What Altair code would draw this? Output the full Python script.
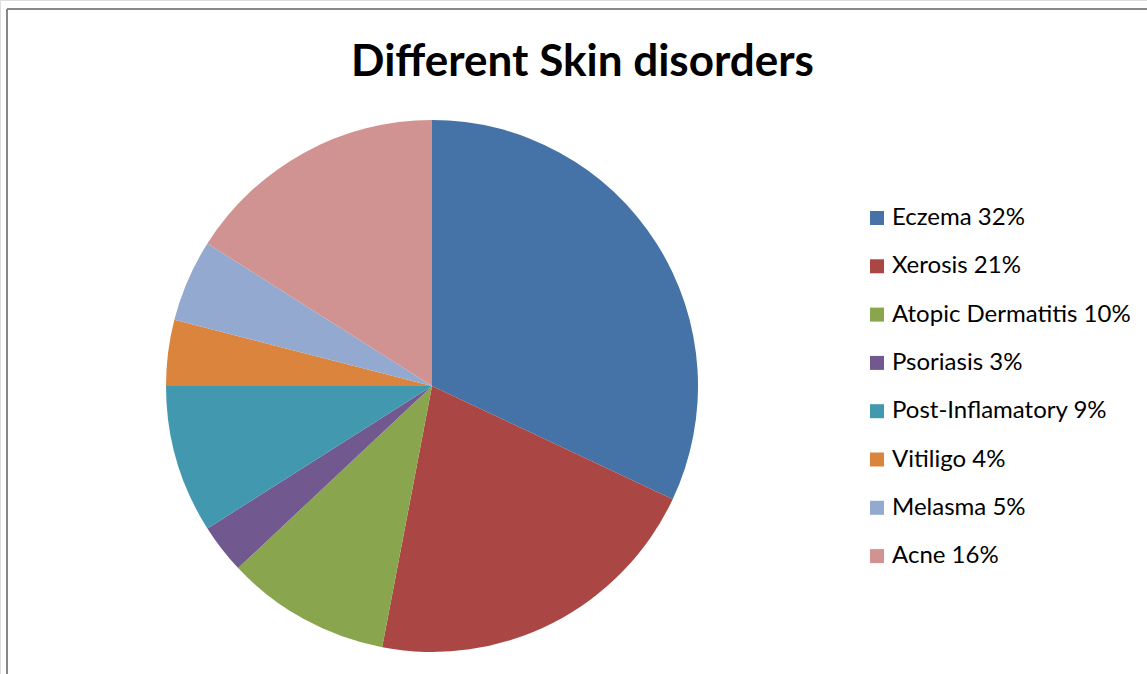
import altair as alt
import pandas as pd

categories = ["Eczema", "Xerosis", "Atopic Dermatitis", "Psoriasis",
              "Post-Inflamatory", "Vitiligo", "Melasma", "Acne"]
values = [32, 21, 10, 3, 9, 4, 5, 16]
colors = ["#4572A7", "#AA4643", "#89A54E", "#71588F",
          "#4198AF", "#DB843D", "#93A9CF", "#D19392"]

labels = [f"{c} {v}%" for c, v in zip(categories, values)]
df = pd.DataFrame({"category": categories, "value": values,
                   "label": labels, "idx": list(range(len(values)))})

W, H = 1147, 674

pie = alt.Chart(df).mark_arc(stroke=None).encode(
    theta=alt.Theta("value:Q", stack=True),
    order=alt.Order("idx:Q"),
    color=alt.Color("label:N",
                    scale=alt.Scale(domain=labels, range=colors),
                    sort=labels,
                    legend=alt.Legend(
                        title=None, orient="none", legendX=865, legendY=206,
                        symbolType="square", symbolSize=196,
                        symbolStrokeWidth=0,
                        labelFont="Lato", labelFontSize=24,
                        labelColor="#000000", labelOffset=3,
                        rowPadding=24.3, labelLimit=400)),
    x=alt.value(432), y=alt.value(386),
    radius=alt.value(266),
)

frame_left = alt.Chart(df).mark_rule(color="#888888", strokeWidth=2).encode(
    x=alt.value(7), y=alt.value(9), y2=alt.value(H))
frame_top = alt.Chart(df).mark_rule(color="#888888", strokeWidth=1).encode(
    x=alt.value(7), x2=alt.value(W), y=alt.value(9))

chart = alt.layer(frame_left, frame_top, pie).properties(
    width=W, height=H,
    padding=0,
    autosize=alt.AutoSizeParams(type="none"),
    title=alt.TitleParams("Different Skin disorders", font="Lato",
                          fontSize=44, fontWeight="bold", color="#000000",
                          anchor="middle", offset=0, dy=120, dx=9,
                          baseline="alphabetic"),
).configure_view(stroke=None).configure(background="white")

chart.save("out.html", embed_options={"renderer": "svg", "actions": False})
